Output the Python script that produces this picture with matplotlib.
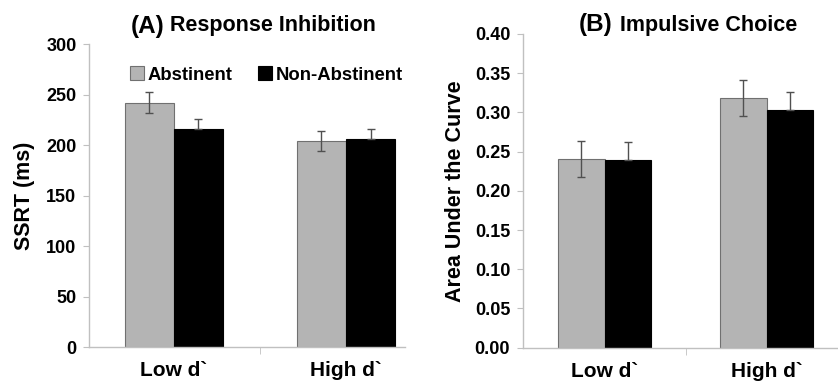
import matplotlib.pyplot as plt
import numpy as np

plt.rcParams['font.family'] = ['Liberation Sans', 'DejaVu Sans']
plt.rcParams['font.weight'] = 'bold'

# Data
categories = ['Low d`', 'High d`']
groups = ['Abstinent', 'Non-Abstinent']

ssrt_abst = [242, 204]
ssrt_non = [216, 205.5]
ssrt_abst_err = [10, 10]
ssrt_non_err = [10, 10]

auc_abst = [0.2405, 0.318]
auc_non = [0.2395, 0.303]
auc_abst_err = [0.023, 0.023]
auc_non_err = [0.023, 0.023]

grey = '#b4b4b4'
spine_col = '#c0c0c0'
err_col = '#505050'

fig = plt.figure(figsize=(8.38, 3.85), dpi=100)
ax1 = fig.add_axes([0.1062, 0.0987, 0.3771, 0.787])
ax2 = fig.add_axes([0.6237, 0.0969, 0.3763, 0.8148])


def draw(ax, a, n, ae, ne, width, xlim, ylim, yticks, fmt, ylabel):
    x = np.arange(len(categories))
    ekw = dict(ecolor=err_col, elinewidth=1, capsize=3, capthick=1)
    ax.bar(x - width / 2, a, width, color=grey, edgecolor='#707070', linewidth=0.8,
           yerr=ae, error_kw=ekw, label=groups[0], zorder=2)
    # lower half of the black bars' error bars is hidden inside the bar
    ax.bar(x + width / 2, n, width, color='black', edgecolor='black', linewidth=0.8,
           yerr=[np.zeros(len(ne)), ne], error_kw=ekw, label=groups[1], zorder=2)
    ax.set_xlim(*xlim)
    ax.set_ylim(*ylim)
    ax.set_yticks(yticks)
    ax.set_yticklabels([fmt.format(v) for v in yticks], fontsize=13, fontweight='bold')
    ax.set_xticks(x)
    ax.set_xticklabels(categories, fontsize=15, fontweight='bold')
    ax.set_xticks([0.5], minor=True)
    ax.tick_params(axis='x', which='major', length=0, pad=10)
    ax.tick_params(axis='x', which='minor', length=5, color=spine_col, direction='out')
    ax.tick_params(axis='y', length=4, color=spine_col, direction='out', pad=5)
    for s in ['top', 'right']:
        ax.spines[s].set_visible(False)
    for s in ['left', 'bottom']:
        ax.spines[s].set_color(spine_col)
        ax.spines[s].set_linewidth(1)
    ax.set_ylabel(ylabel, fontsize=15.5, fontweight='bold')


draw(ax1, ssrt_abst, ssrt_non, ssrt_abst_err, ssrt_non_err, 0.285,
     (-0.494, 1.343), (0, 300), list(range(0, 301, 50)), '{:d}', 'SSRT (ms)')
ax1.yaxis.set_label_coords(-0.17, 0.5)

draw(ax2, auc_abst, auc_non, auc_abst_err, auc_non_err, 0.288,
     (-0.507, 1.44), (0, 0.40), [round(v, 2) for v in np.arange(0, 0.401, 0.05)],
     '{:.2f}', 'Area Under the Curve')
ax2.yaxis.set_label_coords(-0.18, 0.5)

leg = ax1.legend(loc='center left', bbox_to_anchor=(0.13, 0.898), ncol=2, frameon=False,
                 borderpad=0, borderaxespad=0,
                 prop=dict(size=13.3, weight='bold'), handlelength=0.75, handleheight=0.75,
                 handletextpad=0.2, columnspacing=1.4)

# Panel titles
fig.text(164 / 838, 1 - 26 / 385, '(A)', fontsize=17.5, fontweight='bold', ha='right', va='center')
fig.text(170 / 838, 1 - 26 / 385, 'Response Inhibition', fontsize=15.5, fontweight='bold',
         ha='left', va='center')
fig.text(612 / 838, 1 - 25 / 385, '(B)', fontsize=17.5, fontweight='bold', ha='right', va='center')
fig.text(620 / 838, 1 - 25 / 385, 'Impulsive Choice', fontsize=15.5, fontweight='bold',
         ha='left', va='center')

fig.savefig('out.png', dpi=100)
plt.close()
